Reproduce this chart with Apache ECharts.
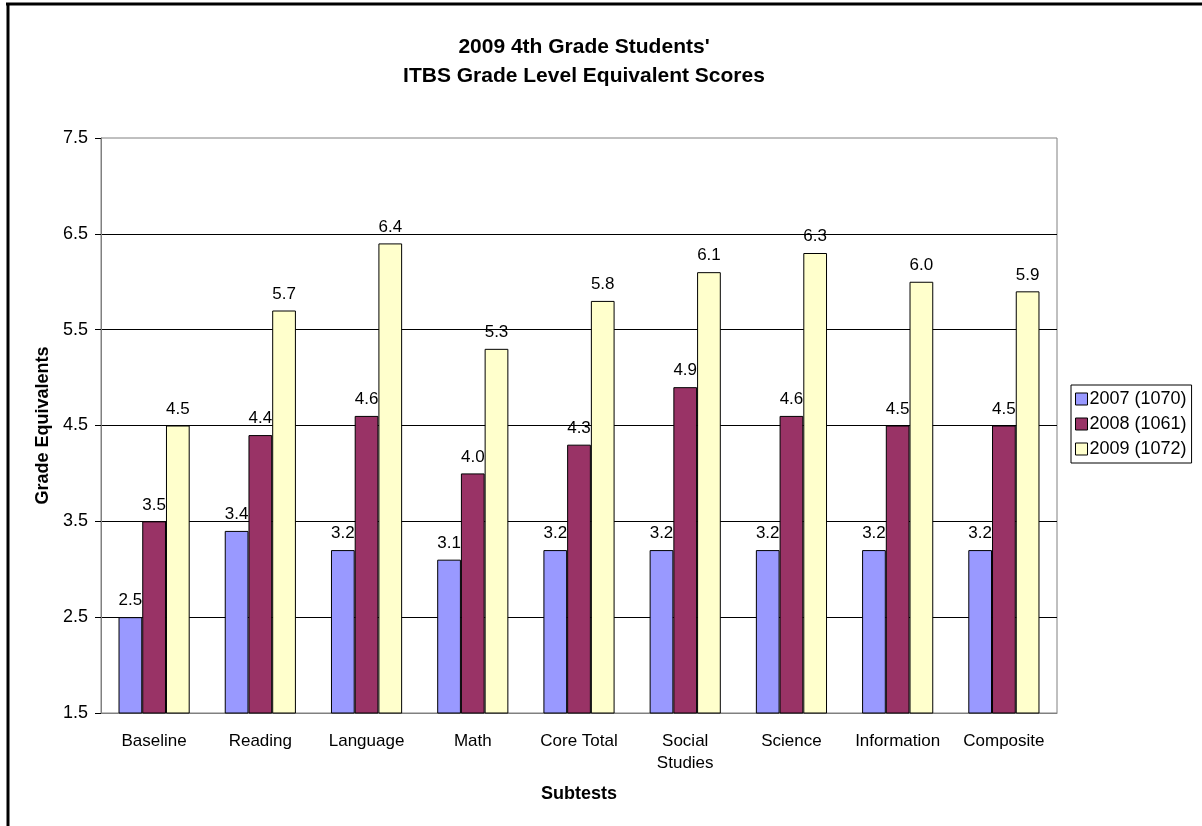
<!DOCTYPE html>
<html>
<head>
<meta charset="utf-8">
<script src="https://cdn.jsdelivr.net/npm/echarts@6/dist/echarts.min.js"></script>
<style>html,body{margin:0;padding:0;background:#fff;}#chart{width:1202px;height:826px;}</style>
</head>
<body>
<div id="chart"></div>
<script>
const categories = ['Baseline', 'Reading', 'Language', 'Math', 'Core Total', 'Social\nStudies', 'Science', 'Information', 'Composite'];
const seriesNames = ['2007 (1070)', '2008 (1061)', '2009 (1072)'];
const values2007 = [2.5, 3.4, 3.2, 3.1, 3.2, 3.2, 3.2, 3.2, 3.2];
const values2008 = [3.5, 4.4, 4.6, 4.0, 4.3, 4.9, 4.6, 4.5, 4.5];
const values2009 = [4.5, 5.7, 6.4, 5.3, 5.8, 6.1, 6.3, 6.0, 5.9];
const colors = ['#9999FF', '#993366', '#FFFFCC'];

const font = '"Liberation Sans", Arial, sans-serif';
const chart = echarts.init(document.getElementById('chart'));
const allValues = [values2007, values2008, values2009];

chart.setOption({
  animation: false,
  backgroundColor: '#fff',
  textStyle: { fontFamily: font },
  title: {
    text: "2009 4th Grade Students'\nITBS Grade Level Equivalent Scores",
    left: 579, textAlign: 'center', top: 28,
    textStyle: { fontFamily: font, fontSize: 21, fontWeight: 'bold', color: '#000', lineHeight: 29 }
  },
  graphic: [
    { type: 'line', shape: { x1: 6, y1: 4, x2: 1202, y2: 4 }, style: { stroke: '#000', lineWidth: 3 } },
    { type: 'line', shape: { x1: 8, y1: 3, x2: 8, y2: 826 }, style: { stroke: '#000', lineWidth: 3 } }
  ],
  legend: {
    orient: 'vertical',
    left: 1071, top: 385,
    padding: [5, 5, 5, 4],
    itemGap: 7,
    itemWidth: 12, itemHeight: 12,
    icon: 'rect',
    borderColor: '#000', borderWidth: 1,
    itemStyle: { borderColor: '#000', borderWidth: 1 },
    textStyle: { fontFamily: font, fontSize: 18, color: '#000', padding: [0, 0, 0, -3] },
    data: seriesNames
  },
  grid: { left: 101, right: 145, top: 138, bottom: 113, show: true, borderColor: '#808080', borderWidth: 1, containLabel: false },
  xAxis: {
    type: 'category',
    data: categories,
    name: 'Subtests', nameLocation: 'middle', nameGap: 72,
    nameTextStyle: { fontFamily: font, fontSize: 18, fontWeight: 'bold', color: '#000' },
    axisLine: { lineStyle: { color: '#808080' } },
    axisTick: { length: 6, lineStyle: { color: '#000' } },
    axisLabel: { fontFamily: font, fontSize: 17, color: '#000', margin: 17, lineHeight: 22, interval: 0 }
  },
  yAxis: {
    type: 'value', min: 1.5, max: 7.5, interval: 1,
    name: 'Grade Equivalents', nameLocation: 'middle', nameGap: 44,
    nameTextStyle: { fontFamily: font, fontSize: 18, fontWeight: 'bold', color: '#000' },
    axisLine: { show: true, lineStyle: { color: '#808080' } },
    axisTick: { show: true, length: 6, lineStyle: { color: '#000' } },
    axisLabel: { fontFamily: font, fontSize: 18, color: '#000', margin: 13, formatter: v => v.toFixed(1) },
    splitLine: { show: true, showMaxLine: false, showMinLine: false, lineStyle: { color: '#000', width: 1 } }
  },
  series: allValues.map((vals, i) => ({
    name: seriesNames[i],
    type: 'bar',
    data: vals,
    barGap: '0%',
    barCategoryGap: '33%',
    itemStyle: { color: colors[i], borderColor: '#000', borderWidth: 1 },
    label: { show: true, position: 'top', distance: 8, fontFamily: font, fontSize: 17, color: '#000', formatter: p => p.value.toFixed(1) }
  }))
});
</script>
</body>
</html>
